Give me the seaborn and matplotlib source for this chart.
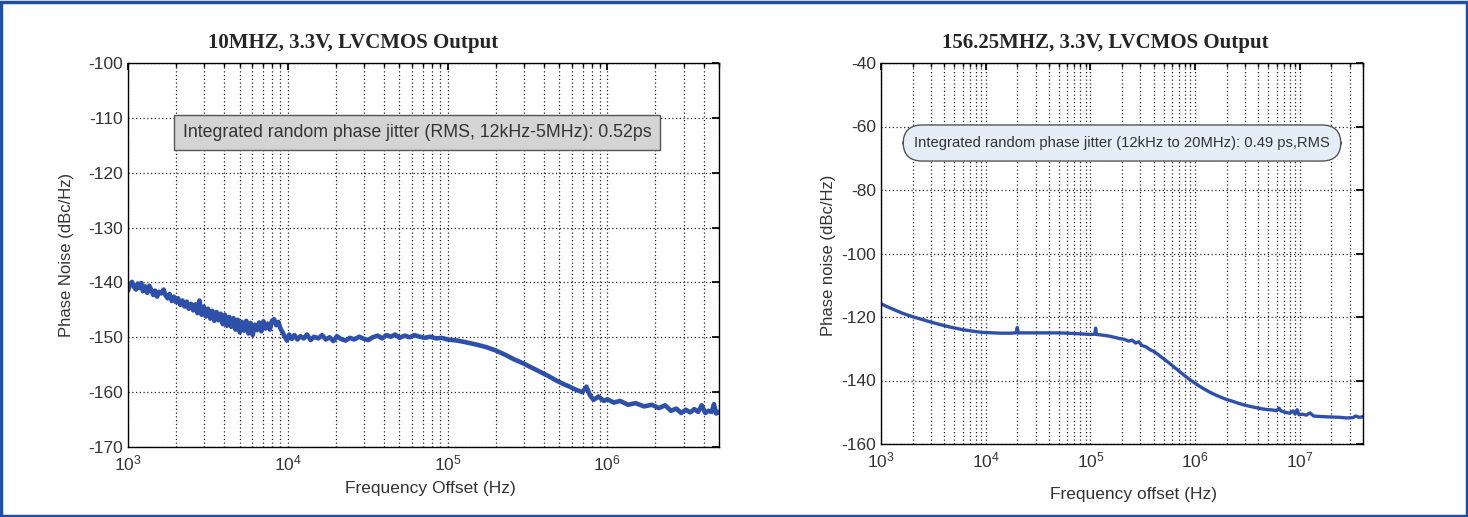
import math
import matplotlib
matplotlib.use("Agg")
import matplotlib.pyplot as plt
import matplotlib.ticker as mticker
from matplotlib.patches import Rectangle
import seaborn as sns

# Left panel: 10 MHz, offset frequency (Hz) and phase noise (dBc/Hz)
freq_10m = [1000, 1030, 1060, 1090, 1120, 1150, 1180, 1210, 1240, 1280, 1320, 1360, 1400,
            1440, 1480, 1520, 1570, 1620, 1670, 1720, 1770, 1820, 1880, 1940, 2000, 2060,
            2120, 2190, 2260, 2330, 2400, 2480, 2560, 2640, 2720, 2800, 2890, 2980, 3070,
            3170, 3270, 3370, 3470, 3580, 3690, 3800, 3920, 4040, 4170, 4300, 4430, 4570,
            4710, 4860, 5010, 5170, 5330, 5500, 5670, 5850, 6030, 6220, 6420, 6620, 6830,
            7040, 7260, 7490, 7720, 7960, 8210, 8470, 8730, 9000, 9280, 9570, 9870, 10200,
            10600, 11000, 11500, 12000, 12600, 13200, 13900, 14600, 15500, 16400, 17300,
            18300, 19300, 20300, 21500, 23000, 24500, 26000, 28000, 30000, 32000, 34000,
            36500, 39000, 41500, 44000, 47000, 50000, 54000, 58000, 62000, 67000, 72000,
            78000, 85000, 92000, 100000, 115000, 130000, 150000, 175000, 200000, 230000,
            260000, 300000, 340000, 380000, 430000, 480000, 530000, 580000, 640000, 700000,
            740000, 780000, 820000, 880000, 950000, 1000000, 1100000, 1200000, 1350000,
            1500000, 1700000, 1900000, 2100000, 2300000, 2500000, 2700000, 2900000, 3100000,
            3300000, 3500000, 3700000, 3900000, 4100000, 4300000, 4500000, 4650000, 4800000,
            5000000]
noise_10m = [-141.5, -140.4, -139.9, -140.8, -141.3, -140.2, -141.0, -140.1, -141.6, -140.7,
             -141.9, -140.6, -141.4, -142.3, -141.5, -142.6, -141.7, -142.0, -141.3, -142.4,
             -142.9, -142.1, -143.4, -142.6, -143.6, -142.9, -144.1, -143.3, -144.4, -143.5,
             -144.8, -143.9, -145.1, -144.0, -145.6, -143.3, -145.9, -144.4, -146.2, -144.8,
             -146.6, -145.2, -147.0, -145.4, -146.9, -145.7, -147.6, -145.9, -147.9, -146.3,
             -148.1, -146.5, -148.6, -146.8, -149.1, -147.2, -148.8, -147.0, -149.3, -147.4,
             -149.6, -147.7, -148.7, -147.3, -148.9, -147.1, -148.4, -147.5, -148.6, -147.0,
             -146.7, -147.8, -147.2, -148.4, -149.1, -149.9, -150.6, -149.5, -150.3, -149.6,
             -150.4, -149.8, -150.2, -149.5, -150.5, -149.9, -150.2, -149.6, -150.4, -150.0,
             -150.7, -149.8, -150.3, -150.6, -150.1, -150.4, -149.9, -150.3, -150.5, -150.0,
             -149.7, -150.2, -149.6, -149.9, -149.5, -150.1, -149.7, -150.0, -149.6, -149.9,
             -150.1, -149.9, -150.2, -150.1, -150.4, -150.6, -150.9, -151.3, -151.8, -152.4,
             -153.2, -154.0, -154.8, -155.6, -156.3, -157.1, -157.9, -158.5, -159.0, -159.6,
             -160.0, -159.0, -160.6, -161.4, -160.8, -161.6, -161.3, -161.9, -161.6, -162.3,
             -162.0, -162.6, -162.3, -162.9, -162.4, -163.4, -163.0, -163.8, -163.2, -163.7,
             -163.1, -163.6, -162.4, -163.8, -163.4, -163.6, -162.2, -163.9, -163.6]

# Right panel: 156.25 MHz
freq_156m = [1000, 1100, 1250, 1400, 1600, 1800, 2000, 2300, 2600, 3000, 3500, 4000, 4600,
             5300, 6000, 7000, 8000, 9000, 10000, 12000, 14000, 17000, 19500, 20000, 20500,
             25000, 30000, 40000, 50000, 60000, 70000, 80000, 100000, 110000, 112000,
             114000, 130000, 150000, 170000, 190000, 210000, 230000, 250000, 270000,
             290000, 310000, 340000, 370000, 400000, 430000, 470000, 520000, 570000,
             630000, 700000, 780000, 870000, 970000, 1100000, 1250000, 1400000, 1600000,
             1800000, 2000000, 2300000, 2600000, 3000000, 3500000, 4000000, 4500000,
             5000000, 5500000, 6000000, 6300000, 6600000, 7200000, 8000000, 8600000,
             9000000, 9400000, 9800000, 10500000, 11500000, 12500000, 13500000, 15000000,
             17000000, 20000000, 24000000, 28000000, 32000000, 34000000, 37000000, 40000000]
noise_156m = [-115.8, -116.5, -117.3, -118.0, -118.8, -119.4, -119.9, -120.5, -121.0, -121.6,
              -122.2, -122.7, -123.2, -123.6, -124.0, -124.3, -124.6, -124.8, -124.9, -125.0,
              -125.1, -125.1, -125.0, -123.3, -125.0, -125.0, -125.0, -125.0, -125.0, -125.1,
              -125.2, -125.3, -125.5, -125.4, -123.5, -125.5, -125.7, -126.0, -126.4, -126.8,
              -127.0, -127.6, -127.3, -128.2, -127.8, -129.0, -129.4, -130.3, -130.8, -131.5,
              -132.5, -133.6, -134.6, -135.8, -137.0, -138.3, -139.5, -140.6, -141.8, -142.9,
              -143.8, -144.7, -145.4, -146.0, -146.6, -147.2, -147.8, -148.3, -148.7, -149.0,
              -149.2, -149.3, -149.5, -148.7, -149.6, -150.0, -150.3, -149.6, -150.6, -149.2,
              -150.8, -150.6, -150.9, -150.2, -151.2, -151.3, -151.4, -151.5, -151.6, -151.8,
              -151.7, -151.2, -151.6, -151.4]

LINE = "#2f50a8"
TXT = "#333333"

sns.set_theme(style="white")
plt.rcParams["font.family"] = ["Liberation Sans", "DejaVu Sans"]
plt.rcParams["axes.unicode_minus"] = False

W, H = 1468, 517
fig = plt.figure(figsize=(W / 100, H / 100), dpi=100)
fig.patch.set_facecolor("white")


def px_axes(x0, x1, y0, y1):
    return fig.add_axes([x0 / W, 1 - y1 / H, (x1 - x0) / W, (y1 - y0) / H])


def style_axes(ax, xmax, ymin, ymax, ystep):
    ax.set_xscale("log")
    ax.set_xlim(1e3, xmax)
    ax.set_ylim(ymin, ymax)
    ax.set_yticks(range(ymin, ymax + 1, ystep))
    ax.xaxis.set_major_locator(mticker.LogLocator(base=10))
    ax.xaxis.set_minor_locator(mticker.LogLocator(base=10, subs=range(2, 10)))
    ax.xaxis.set_major_formatter(mticker.FuncFormatter(
        lambda v, p: r"$\mathregular{10^{%d}}$" % round(math.log10(v))))
    ax.xaxis.set_minor_formatter(mticker.NullFormatter())
    ax.grid(which="major", axis="both", color="#222222", linestyle=(0, (1, 2)), linewidth=0.9)
    ax.grid(which="minor", axis="x", color="#222222", linestyle=(0, (1, 2)), linewidth=0.9)
    ax.tick_params(which="both", direction="in", top=True, right=True,
                   labelsize=12.5, colors="black", labelcolor=TXT)
    ax.tick_params(which="major", length=5)
    ax.tick_params(which="minor", length=3)
    ax.tick_params(axis="x", pad=5)
    for s in ax.spines.values():
        s.set_color("black")
        s.set_linewidth(1.0)
    ax.set_xlabel("")
    ax.set_ylabel("")


# Left panel
ax1 = px_axes(128, 719, 63, 447)
sns.lineplot(x=freq_10m, y=noise_10m, ax=ax1, color=LINE, linewidth=3.3)
style_axes(ax1, 5e6, -170, -100, 10)
ax1.text(0.489, 0.82, "Integrated random phase jitter (RMS, 12kHz-5MHz): 0.52ps",
         transform=ax1.transAxes, ha="center", va="center", fontsize=12.8, color=TXT,
         bbox=dict(boxstyle="square,pad=0.5", facecolor="#d4d4d4", edgecolor="#555555",
                   linewidth=1.0))
fig.text(353 / W, 1 - 43 / H, "10MHZ, 3.3V, LVCMOS Output", ha="center", va="center",
         fontsize=15, fontweight="bold", family=["Liberation Serif", "DejaVu Serif"])
fig.text(430 / W, 1 - 489 / H, "Frequency Offset (Hz)", ha="center", va="center",
         fontsize=12.5, color=TXT)
fig.text(67 / W, 1 - 255 / H, "Phase Noise (dBc/Hz)", ha="center", va="center",
         fontsize=12, color=TXT, rotation=90)

# Right panel
ax2 = px_axes(881, 1363, 63, 444)
sns.lineplot(x=freq_156m, y=noise_156m, ax=ax2, color=LINE, linewidth=2.4)
style_axes(ax2, 4e7, -160, -40, 20)
ax2.text(0.5, 0.79, "Integrated random phase jitter (12kHz to 20MHz): 0.49 ps,RMS",
         transform=ax2.transAxes, ha="center", va="center", fontsize=10.6, color=TXT,
         bbox=dict(boxstyle="round,pad=0.75,rounding_size=1.3", facecolor="#e4edf8",
                   edgecolor="#555555", linewidth=1.0))
fig.text(1105 / W, 1 - 43 / H, "156.25MHZ, 3.3V, LVCMOS Output", ha="center", va="center",
         fontsize=15, fontweight="bold", family=["Liberation Serif", "DejaVu Serif"])
fig.text(1133 / W, 1 - 495 / H, "Frequency offset (Hz)", ha="center", va="center",
         fontsize=12.5, color=TXT)
fig.text(828 / W, 1 - 255 / H, "Phase noise (dBc/Hz)", ha="center", va="center",
         fontsize=12, color=TXT, rotation=90)

# Outer blue frame
fig.patches.append(Rectangle((1.5 / W, 1.5 / H), 1 - 3 / W, 1 - 3 / H, transform=fig.transFigure,
                             fill=False, edgecolor="#1f4f9e", linewidth=2.5))

fig.savefig("out.png", dpi=100)
plt.close(fig)
